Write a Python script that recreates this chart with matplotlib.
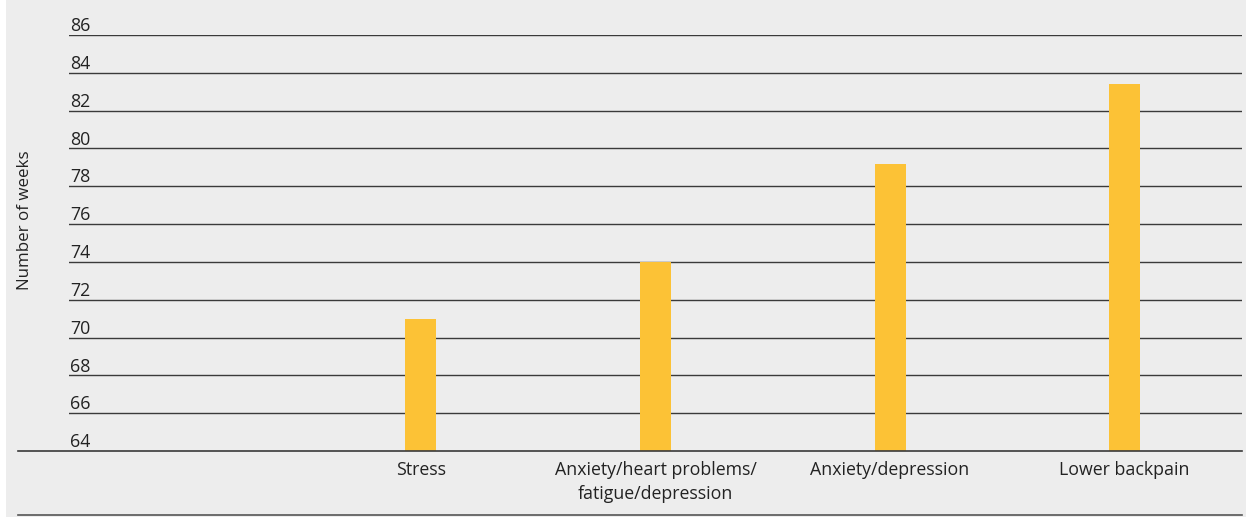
import matplotlib.pyplot as plt
from matplotlib.patches import Rectangle
from matplotlib.lines import Line2D

plt.rcParams['font.family'] = ['Open Sans', 'DejaVu Sans']

categories = ['', 'Stress', 'Anxiety/heart problems/\nfatigue/depression',
              'Anxiety/depression', 'Lower backpain']
weeks = [None, 71.0, 74.0, 79.2, 83.4]
yticks = [64, 66, 68, 70, 72, 74, 76, 78, 80, 82, 84, 86]

bg = '#ededed'
bar_col = '#fcc236'
line_col = '#3a3a3a'

W, H = 1246, 517
fig = plt.figure(figsize=(W / 100, H / 100), dpi=100)
fig.patch.set_facecolor('white')
fig.patches.append(Rectangle((6 / W, 0), 1, 1, transform=fig.transFigure,
                             facecolor=bg, edgecolor='none', zorder=-10))

ax = fig.add_axes([69 / W, (H - 451) / H, (1242 - 69) / W, (451 - 35) / H])
ax.patch.set_alpha(0)

x = list(range(len(categories)))
heights = [v - 64 if v is not None else 0 for v in weeks]
ax.bar(x, heights, bottom=64, width=0.132, color=bar_col, zorder=3)
ax.set_xlim(-0.5, len(categories) - 0.5)
ax.set_ylim(64, 86)

# gridlines with labels sitting on top of each line
for t in yticks:
    if t > 64:
        ax.axhline(t, color=line_col, lw=1.0, zorder=1)
    ax.text(0.001, t + 0.2, str(t), transform=ax.get_yaxis_transform(),
            ha='left', va='baseline', fontsize=12.8, color='#222222')

ax.set_yticks([])
ax.set_xticks(x)
ax.set_xticklabels(categories, fontsize=12.8, color='#222222',
                   linespacing=1.45)
ax.tick_params(axis='x', length=0, pad=7)
for s in ax.spines.values():
    s.set_visible(False)

# baseline and bottom rule reach out past the axes on the left
fig.lines.append(Line2D([18 / W, 1242 / W], [(H - 451) / H] * 2,
                        transform=fig.transFigure, color=line_col, lw=1.2))
fig.lines.append(Line2D([18 / W, 1242 / W], [(H - 515) / H] * 2,
                        transform=fig.transFigure, color='#555555', lw=1.2))

fig.text(25 / W, (H - 220) / H, 'Number of weeks', rotation=90,
         ha='center', va='center', fontsize=12.2, color='#222222')

fig.savefig('out.png', dpi=100, facecolor=fig.get_facecolor())
